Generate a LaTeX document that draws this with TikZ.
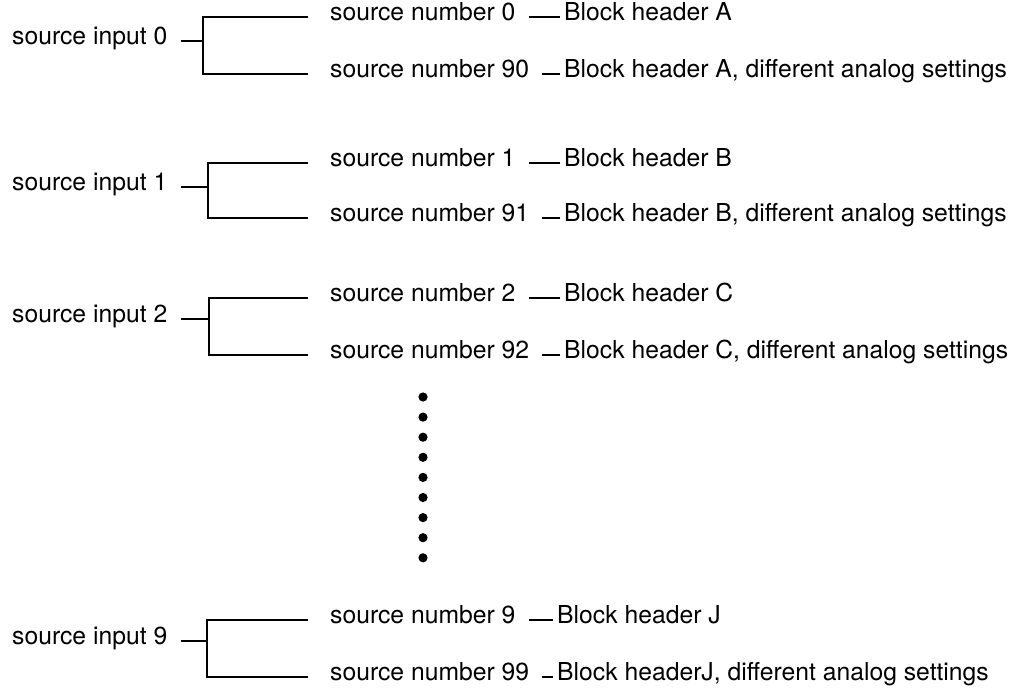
\documentclass[tikz,border=0pt]{standalone}
\usepackage{fontspec}
\setmainfont{TeX Gyre Heros}
\usetikzlibrary{positioning}
\begin{document}
\begin{tikzpicture}[
    x=1pt,y=-1pt,
    lbl/.style={anchor=west,inner xsep=0pt,text height=0.78em,text depth=0pt,
      font=\fontsize{24.7}{30}\selectfont},
    wire/.style={line width=1.1pt}
  ]
  \useasboundingbox (0,0) rectangle (1016,698);
  \foreach \g/\ta/\tm/\tb/\bx/\hx/\na/\nb/\ha/\hb in {
      0/17/41/74/203/564/0/90/{Block header A}/{Block header A, different analog settings},
      1/163/187/218/208/564/1/91/{Block header B}/{Block header B, different analog settings},
      2/298/319/355/209/564/2/92/{Block header C}/{Block header C, different analog settings},
      9/620/641/677/207/557/9/99/{Block header J}/{Block headerJ, different analog settings}}{
    \node[lbl] (in\g) at (12,\tm) {source input \g};
    \coordinate (j\g) at (\bx,\tm);
    \node[lbl] (na\g) at (330,\ta) {source number \na};
    \node[lbl] (nb\g) at (330,\tb) {source number \nb};
    \node[lbl] (ha\g) at (\hx,\ta) {\ha};
    \node[lbl] (hb\g) at (\hx,\tb) {\hb};
    \draw[wire,shorten <=13pt] (in\g) -- (j\g);
    \draw[wire,shorten >=22pt] (j\g) |- (na\g);
    \draw[wire,shorten >=22pt] (j\g) |- (nb\g);
    \draw[wire,shorten <=13pt,shorten >=4pt] (na\g) -- (ha\g);
    \draw[wire,shorten <=13pt,shorten >=4pt] (nb\g) -- (hb\g);
  }
  % elided groups 3 to 8
  \foreach \k in {0,...,8}
    \fill (423,397+20.1*\k) circle (4.6pt);
\end{tikzpicture}
\end{document}
